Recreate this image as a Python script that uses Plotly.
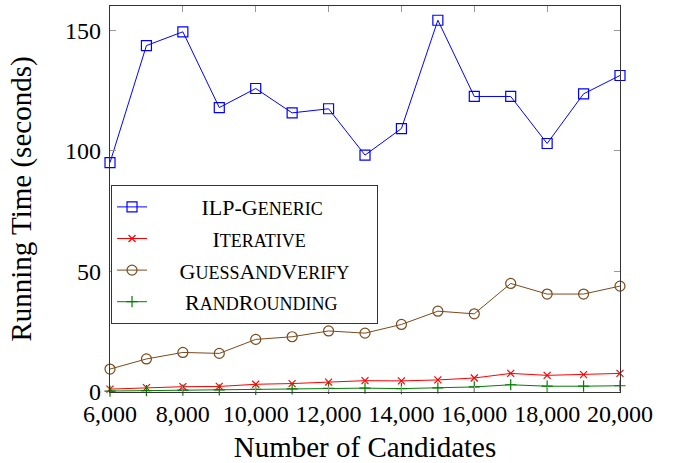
import plotly.graph_objects as go

candidates = [6000, 7000, 8000, 9000, 10000, 11000, 12000, 13000, 14000, 15000, 16000, 17000, 18000, 19000, 20000]
ilp_generic = [95.1, 143.6, 149.3, 117.9, 125.8, 115.7, 117.4, 98.2, 109.2, 154.1, 122.5, 122.5, 103.0, 123.6, 131.2]
iterative = [1.2, 1.8, 2.2, 2.3, 3.2, 3.5, 4.1, 4.7, 4.6, 5.0, 5.8, 7.7, 6.9, 7.2, 7.7]
guess_and_verify = [9.5, 13.7, 16.4, 16.0, 21.8, 22.9, 25.3, 24.4, 28.0, 33.5, 32.4, 45.0, 40.6, 40.6, 43.9]
rand_rounding = [0.4, 0.6, 0.8, 0.9, 1.1, 1.3, 1.5, 1.6, 1.4, 1.7, 2.1, 3.0, 2.4, 2.4, 2.6]

x_ticks = [6000, 8000, 10000, 12000, 14000, 16000, 18000, 20000]
y_ticks = [0, 50, 100, 150]

SMALL = "<span style='font-size:18px'>{}</span>"
NB = "\u00a0"
names = [
    NB * 9 + "ILP-G" + SMALL.format("ENERIC"),
    NB * 11 + "I" + SMALL.format("TERATIVE"),
    NB * 5 + "G" + SMALL.format("UESS") + "A" + SMALL.format("ND") + "V" + SMALL.format("ERIFY") + NB * 4,
    NB * 6 + "R" + SMALL.format("AND") + "R" + SMALL.format("OUNDING"),
]

fig = go.Figure()
series = [
    (ilp_generic, "#0000ff", "square-open", 10),
    (iterative, "#ff0000", "x-thin-open", 7),
    (guess_and_verify, "#7a4a1c", "circle-open", 10),
    (rand_rounding, "#007f00", "cross-thin-open", 8),
]
for (vals, col, sym, size), nm in zip(series, names):
    fig.add_trace(go.Scatter(
        x=candidates, y=vals, name=nm, mode="lines+markers",
        line=dict(color=col, width=1),
        marker=dict(symbol=sym, size=size, color=col, line=dict(color=col, width=1.2)),
        cliponaxis=False,
    ))

font_family = "Liberation Serif, Times New Roman, serif"
fig.update_layout(
    width=678, height=463,
    margin=dict(l=110, r=58, t=6, b=71),
    paper_bgcolor="white", plot_bgcolor="white",
    font=dict(family=font_family, size=24, color="black"),
    showlegend=True,
    legend=dict(
        x=0.002, y=0.536, xanchor="left", yanchor="top",
        bgcolor="white", bordercolor="#333333", borderwidth=1,
        font=dict(family=font_family, size=22, color="black"),
        tracegroupgap=0,
    ),
)
fig.update_xaxes(
    range=[6000, 20000], tickvals=x_ticks, tickformat=",d",
    ticks="inside", ticklen=6, tickcolor="#999999",
    showline=True, linecolor="#333333", linewidth=1.2, mirror="ticks",
    showgrid=False, zeroline=False, automargin=False,
    tickfont=dict(size=24),
    title=dict(text="Number of Candidates", font=dict(size=29), standoff=10),
)
fig.update_yaxes(
    range=[0, 160], tickvals=y_ticks,
    ticks="inside", ticklen=6, tickcolor="#999999",
    showline=True, linecolor="#333333", linewidth=1.2, mirror="ticks",
    showgrid=False, zeroline=False, automargin=False,
    tickfont=dict(size=24), ticklabelstandoff=3,
    title=dict(text="Running Time (seconds)", font=dict(size=29), standoff=24),
)
fig.write_html("out.html", config={"displayModeBar": False},
               post_script="document.body.style.margin='0';")
